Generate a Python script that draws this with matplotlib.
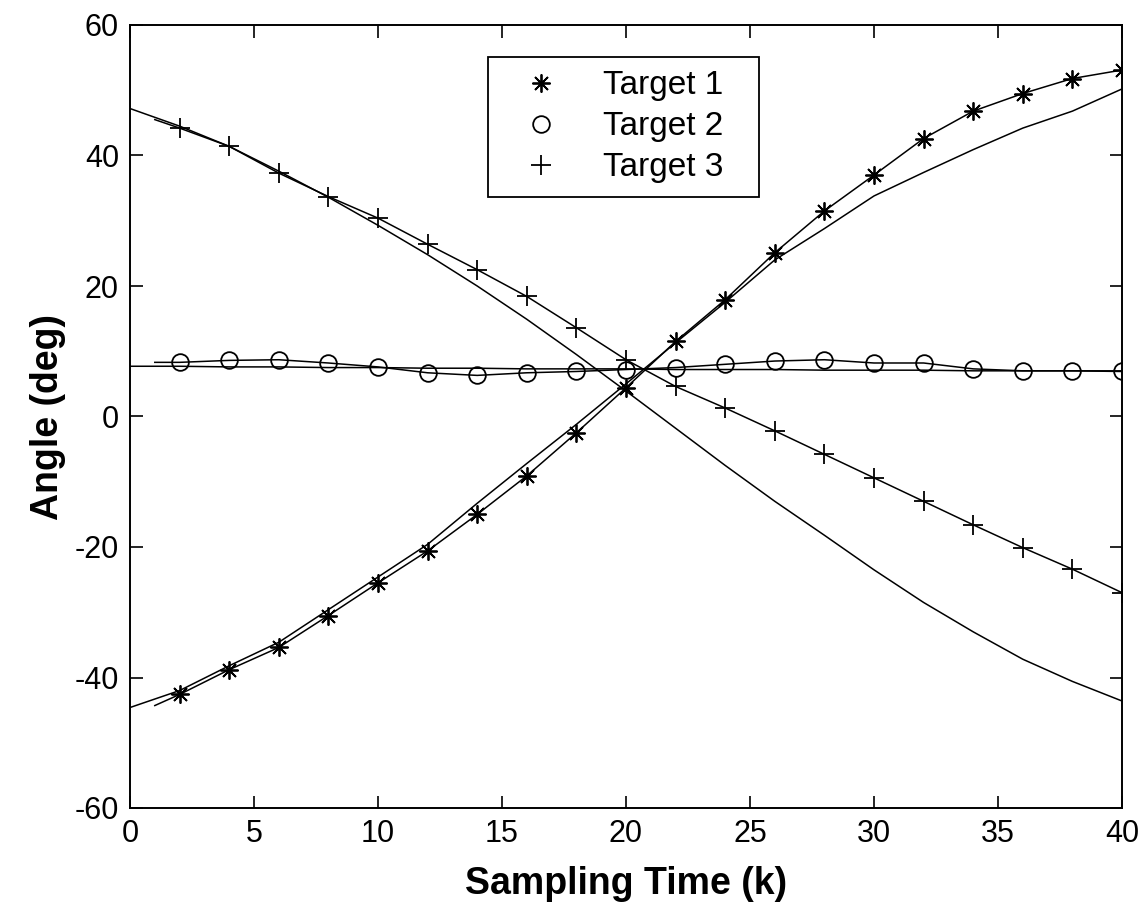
import matplotlib
matplotlib.use('Agg')
import matplotlib.pyplot as plt
from matplotlib.lines import Line2D

# ---- data ----
k_true = [0, 2, 4, 6, 8, 10, 12, 14, 16, 18, 20, 22, 24, 26, 28, 30, 32, 34, 36, 38, 40]
t1_true = [-44.6, -42.0, -38.2, -34.6, -29.6, -24.6, -19.6, -13.3, -7.2, -1.2, 5.0,
           11.3, 17.5, 24.0, 28.8, 33.8, 37.4, 40.9, 44.2, 46.8, 50.2]
t2_true = [7.7, 7.7, 7.6, 7.6, 7.5, 7.5, 7.4, 7.4, 7.3, 7.3, 7.3,
           7.2, 7.2, 7.2, 7.1, 7.1, 7.1, 7.0, 7.0, 7.0, 7.0]
t3_true = [47.2, 44.5, 41.4, 37.6, 33.6, 29.3, 24.8, 20.0, 14.9, 9.5, 3.9,
           -1.8, -7.5, -13.0, -18.2, -23.5, -28.5, -33.0, -37.2, -40.6, -43.6]

k_est = [1, 2, 4, 6, 8, 10, 12, 14, 16, 18, 20, 22, 24, 26, 28, 30, 32, 34, 36, 38, 40]
t1_est = [-44.3, -42.6, -38.8, -35.4, -30.5, -25.5, -20.6, -15.0, -9.1, -2.5, 4.4,
          11.5, 17.9, 25.1, 31.5, 37.0, 42.6, 46.8, 49.5, 51.8, 53.1]
t2_est = [8.3, 8.3, 8.6, 8.7, 8.2, 7.6, 6.7, 6.3, 6.7, 6.9, 7.2,
          7.5, 8.0, 8.5, 8.7, 8.2, 8.2, 7.3, 7.0, 7.0, 6.9]
t3_est = [45.5, 44.2, 41.4, 37.3, 33.7, 30.4, 26.4, 22.5, 18.4, 13.6, 8.7,
          4.6, 1.3, -2.2, -5.8, -9.4, -13.0, -16.6, -20.1, -23.4, -27.0]

labels = ['Target 1', 'Target 2', 'Target 3']
x_ticks = [0, 5, 10, 15, 20, 25, 30, 35, 40]
y_ticks = [-60, -40, -20, 0, 20, 40, 60]

plt.rcParams['font.family'] = ['Liberation Sans', 'DejaVu Sans']
plt.rcParams['axes.unicode_minus'] = False

fig = plt.figure(figsize=(11.45, 9.18), dpi=100)
ax = fig.add_axes([130/1145, 1 - 808/918, (1122-130)/1145, (808-25)/918])

asterisk = (8, 2, 0)
mk = dict(color='black', lw=1.1, markevery=range(1, len(k_est)),
          markerfacecolor='none', markeredgecolor='black', markeredgewidth=1.3)

ax.plot(k_true, t1_true, color='black', lw=1.1)
ax.plot(k_true, t2_true, color='black', lw=1.1)
ax.plot(k_true, t3_true, color='black', lw=1.1)
ax.plot(k_est, t1_est, marker=asterisk, markersize=13, **mk)
ax.plot(k_est, t2_est, marker='o', markersize=12, **mk)
ax.plot(k_est, t3_est, marker='+', markersize=15, **mk)

ax.set_xlim(0, 40)
ax.set_ylim(-60, 60)
ax.set_xticks(x_ticks)
ax.set_yticks(y_ticks)
ax.tick_params(direction='in', length=9, width=1.2, top=True, right=True,
               labelsize=22, pad=8)
for s in ax.spines.values():
    s.set_linewidth(1.4)

ax.set_xlabel('Sampling Time (k)', fontsize=27, fontweight='bold', labelpad=12)
ax.set_ylabel('Angle (deg)', fontsize=27, fontweight='bold', labelpad=6)

handles = [
    Line2D([], [], ls='none', marker=asterisk, markersize=13, color='black', markeredgewidth=1.3),
    Line2D([], [], ls='none', marker='o', markersize=12, markerfacecolor='none',
           markeredgecolor='black', markeredgewidth=1.3),
    Line2D([], [], ls='none', marker='+', markersize=15, color='black', markeredgewidth=1.3),
]
x0 = (488 - 130) / 992
x1 = (759 - 130) / 992
ytop = 1 - (57 - 25) / 783
leg = ax.legend(handles, labels, loc='upper left',
                bbox_to_anchor=(x0, ytop - 0.2, x1 - x0, 0.2), mode='expand',
                fontsize=24, frameon=True, fancybox=False, framealpha=1,
                edgecolor='black', handlelength=2.4, handletextpad=0.66,
                borderpad=0.4, labelspacing=0.3, borderaxespad=0)
leg.get_frame().set_linewidth(1.3)

fig.savefig('out.png', dpi=100)
